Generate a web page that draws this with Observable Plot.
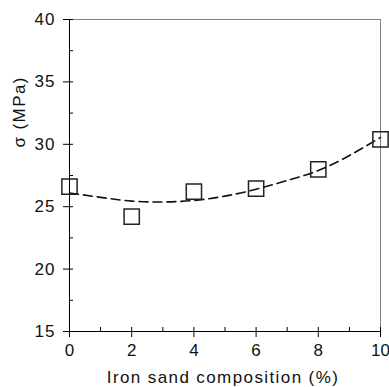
<!DOCTYPE html>
<html>
<head>
<meta charset="utf-8">
<script src="https://cdn.jsdelivr.net/npm/d3@7"></script>
<script src="https://cdn.jsdelivr.net/npm/@observablehq/plot@0.6"></script>
<style>
  html, body { margin: 0; padding: 0; background: #fff; }
  svg g[aria-label="y-axis tick label"] text { letter-spacing: 1px; }
  svg g[aria-label="text"] text { letter-spacing: 1.4px; }
</style>
</head>
<body>
<div id="chart"></div>
<script>
// Measured data (squares)
const composition = [0, 2, 4, 6, 8, 10];
const strength = [26.6, 24.2, 26.2, 26.45, 28.0, 30.4];

// Dashed trend curve
const fitX = [0, 1, 2, 3, 4, 5, 6, 7, 8, 9, 10];
const fitY = [26.1, 25.75, 25.45, 25.38, 25.5, 25.85, 26.4, 27.1, 27.9, 29.1, 30.55];

// Tick values
const xTicks = [0, 2, 4, 6, 8, 10];
const xMinor = [1, 3, 5, 7, 9];
const yTicks = [15, 20, 25, 30, 35, 40];
const yMinor = [17.5, 22.5, 27.5, 32.5, 37.5];

const xLabel = "Iron sand composition (%)";
const yLabel = "σ (MPa)";

const points = composition.map((x, i) => ({x, y: strength[i]}));
const fit = fitX.map((x, i) => ({x, y: fitY[i]}));

const W = 389, H = 387, ML = 69, MR = 9, MT = 19, MB = 56;
const FW = W - ML - MR, FH = H - MT - MB;

const chart = Plot.plot({
  width: W,
  height: H,
  marginLeft: ML,
  marginRight: MR,
  marginTop: MT,
  marginBottom: MB,
  style: {fontFamily: "'Liberation Sans', Arial, sans-serif", fontSize: "17px", color: "#111", background: "#fff"},
  x: {domain: [0, 10]},
  y: {domain: [15, 40]},
  marks: [
    Plot.ruleY([40], {stroke: "#808080", strokeWidth: 1}),
    Plot.ruleX([10], {stroke: "#808080", strokeWidth: 1}),
    Plot.ruleX([0], {stroke: "#000", strokeWidth: 1}),
    Plot.ruleY([15], {stroke: "#000", strokeWidth: 1}),
    Plot.tickY([...yTicks, ...yMinor], {y: d => d, stroke: "#000", insetRight: FW - 4}),
    Plot.tickX([...xTicks, ...xMinor], {x: d => d, stroke: "#000", insetTop: FH - 4}),
    Plot.axisY({ticks: yTicks, tickSize: 6, tickPadding: 8, label: null, stroke: "#000"}),
    Plot.axisX({ticks: xTicks, tickSize: 6, tickPadding: 6, label: null, stroke: "#000"}),
    Plot.line(fit, {x: "x", y: "y", curve: "natural", stroke: "#111", strokeWidth: 1.6, strokeDasharray: "9,5"}),
    Plot.dot(points, {x: "x", y: "y", symbol: "square", r: 8.6, stroke: "#222", strokeWidth: 1.5, fill: "none"}),
    Plot.text([xLabel], {text: d => d, frameAnchor: "bottom", lineAnchor: "bottom", dy: 51, dx: -2, fontSize: 17, fill: "#111"}),
    Plot.text([yLabel], {text: d => d, frameAnchor: "left", rotate: -90, dx: -50, dy: -28, fontSize: 17, fill: "#111"})
  ]
});
document.getElementById("chart").appendChild(chart);
</script>
</body>
</html>
